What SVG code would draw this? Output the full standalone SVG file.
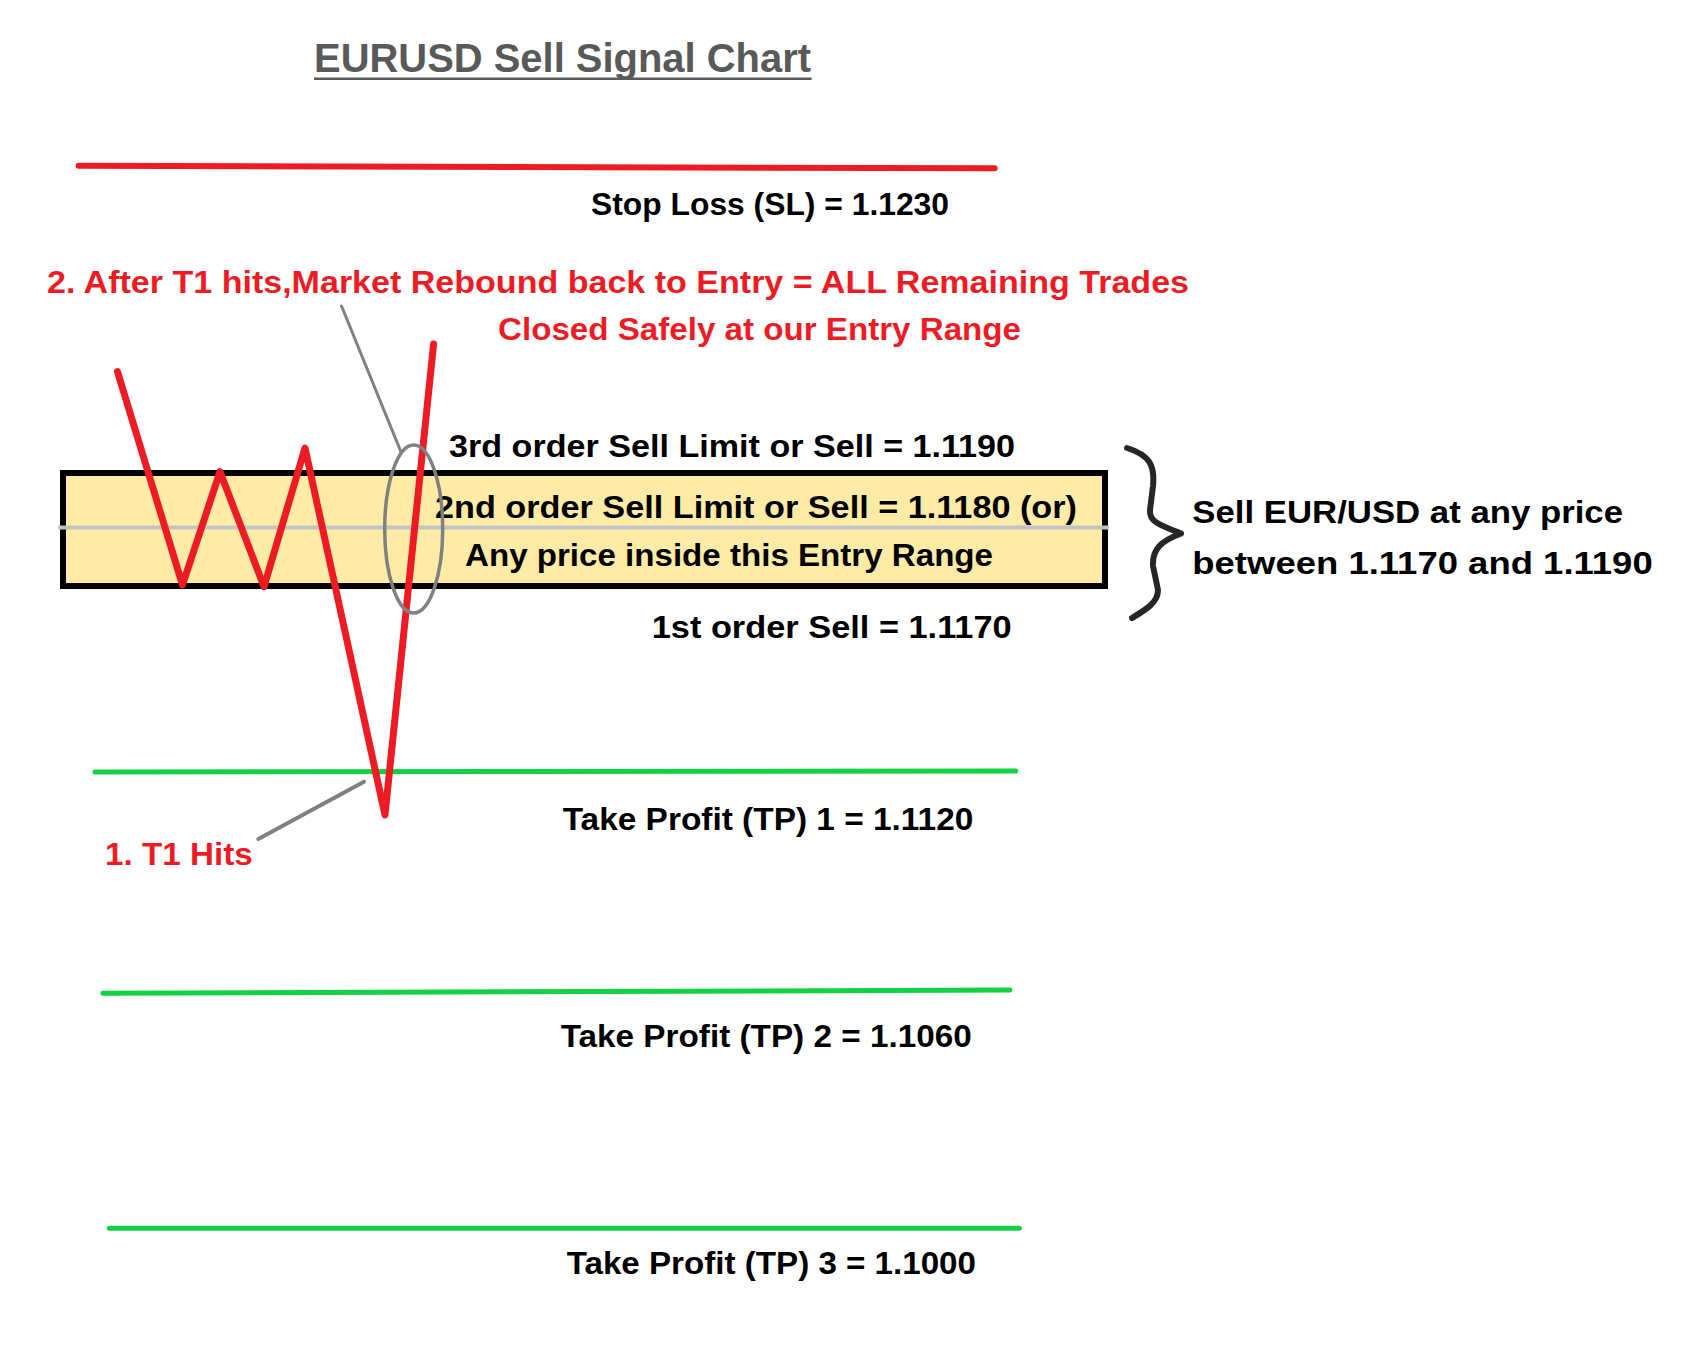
<svg xmlns="http://www.w3.org/2000/svg" width="1684" height="1363" viewBox="0 0 1684 1363">
  <style>
    text { font-family: "Liberation Sans", Arial, sans-serif; font-weight: bold; }
    .blk { fill: #000000; font-size: 32px; }
    .red { fill: #ED1C24; font-size: 32px; }
    .title { fill: #595959; font-size: 40px; }
    .sl { stroke: #ED1C24; stroke-width: 6; stroke-linecap: round; fill: none; }
    .tp { stroke: #12D142; stroke-width: 5; stroke-linecap: round; fill: none; }
    .price { stroke: #ED1C24; stroke-width: 7; stroke-linecap: round; stroke-linejoin: round; fill: none; }
    .lead { stroke: #808080; stroke-linecap: round; fill: none; }
  </style>
  <rect width="1684" height="1363" fill="#FFFFFF"/>

  <g id="title">
    <text class="title" x="314" y="71.5" textLength="497" lengthAdjust="spacingAndGlyphs">EURUSD Sell Signal Chart</text>
    <line x1="314" y1="78.7" x2="811.6" y2="78.7" stroke="#595959" stroke-width="2.5"/>
  </g>

  <g id="stop-loss">
    <line class="sl" x1="78.6" y1="165.7" x2="994.7" y2="168.3"/>
    <text class="blk" x="591" y="215" textLength="358" lengthAdjust="spacingAndGlyphs">Stop Loss (SL) = 1.1230</text>
  </g>

  <g id="note-rebound">
    <text class="red" x="47" y="293.3" textLength="1142" lengthAdjust="spacingAndGlyphs">2. After T1 hits,Market Rebound back to Entry = ALL Remaining Trades</text>
    <text class="red" x="498" y="340" textLength="523" lengthAdjust="spacingAndGlyphs">Closed Safely at our Entry Range</text>
  </g>

  <g id="entry-range">
    <rect x="63" y="473" width="1042" height="113" fill="#FDEBA6" stroke="#000000" stroke-width="6"/>
    <line x1="58" y1="527.5" x2="1109" y2="527.5" stroke="#C3C3C3" stroke-width="4"/>
    <text class="blk" x="435" y="518" textLength="642" lengthAdjust="spacingAndGlyphs">2nd order Sell Limit or Sell = 1.1180 (or)</text>
    <text class="blk" x="465" y="566" textLength="528" lengthAdjust="spacingAndGlyphs">Any price inside this Entry Range</text>
  </g>

  <g id="order-3">
    <text class="blk" x="449" y="456.7" textLength="566" lengthAdjust="spacingAndGlyphs">3rd order Sell Limit or Sell = 1.1190</text>
  </g>

  <g id="order-1">
    <text class="blk" x="651.7" y="638" textLength="360" lengthAdjust="spacingAndGlyphs">1st order Sell = 1.1170</text>
  </g>

  <g id="range-note">
    <path d="M1127,448 C1150,455 1155,466 1153,486 L1150,510 C1149,523 1163,526 1181,533.5 C1161,541 1152,549 1153,566 L1158,590 C1158,603 1145,610 1132,618" fill="none" stroke="#262626" stroke-width="6" stroke-linecap="round" stroke-linejoin="round"/>
    <text class="blk" x="1192.3" y="523.3" textLength="430.7" lengthAdjust="spacingAndGlyphs">Sell EUR/USD at any price</text>
    <text class="blk" x="1192.3" y="574" textLength="460.4" lengthAdjust="spacingAndGlyphs">between 1.1170 and 1.1190</text>
  </g>

  <g id="tp1">
    <line class="tp" x1="95" y1="772" x2="1016" y2="771"/>
    <text class="blk" x="562.7" y="830" textLength="410.6" lengthAdjust="spacingAndGlyphs">Take Profit (TP) 1 = 1.1120</text>
  </g>

  <g id="tp2">
    <line class="tp" x1="102.7" y1="993.3" x2="1010" y2="990"/>
    <text class="blk" x="560.7" y="1046.7" textLength="411" lengthAdjust="spacingAndGlyphs">Take Profit (TP) 2 = 1.1060</text>
  </g>

  <g id="tp3">
    <line class="tp" x1="109.3" y1="1228.3" x2="1019.3" y2="1228.3"/>
    <text class="blk" x="566.7" y="1274" textLength="409.3" lengthAdjust="spacingAndGlyphs">Take Profit (TP) 3 = 1.1000</text>
  </g>

  <g id="price-path">
    <polyline class="price" points="117.5,371.7 182.5,585 220,471.7 264,586.7 305,448 385,815 433.6,344"/>
  </g>

  <g id="note-t1">
    <text class="red" x="105" y="865" textLength="147.7" lengthAdjust="spacingAndGlyphs">1. T1 Hits</text>
  </g>

  <g id="connectors">
    <line class="lead" x1="341.5" y1="306" x2="401" y2="452" stroke-width="3"/>
    <ellipse cx="413.7" cy="529" rx="29" ry="84" fill="none" stroke="#808080" stroke-width="3.5"/>
    <line class="lead" x1="258.3" y1="839" x2="364" y2="781.7" stroke-width="4"/>
  </g>
</svg>
